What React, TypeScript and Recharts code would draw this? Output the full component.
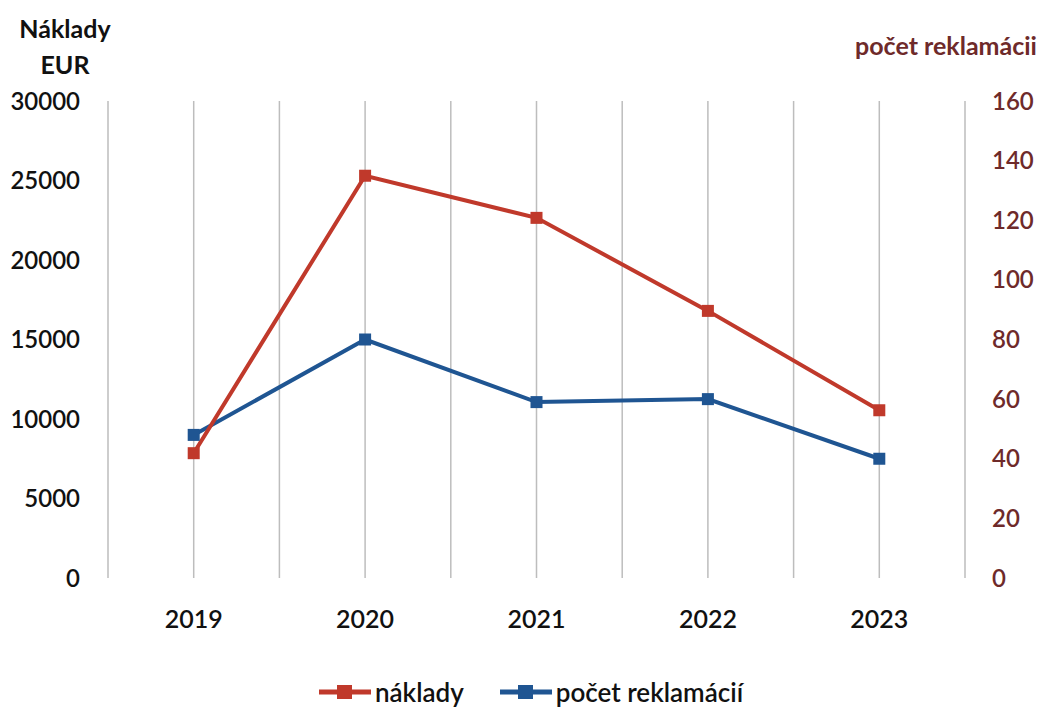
import { LineChart, Line, XAxis, YAxis, CartesianGrid } from 'recharts'

const years = ['2019', '2020', '2021', '2022', '2023']
const naklady = [7850, 25300, 22650, 16800, 10550]
const reklamacie = [48, 80, 59, 60, 40]
const leftTicks = [0, 5000, 10000, 15000, 20000, 25000, 30000]
const rightTicks = [0, 20, 40, 60, 80, 100, 120, 140, 160]

const RED = '#c0392b'
const BLUE = '#1f5592'
const AXIS_RED = '#6e2a2a'
const FONT = 'Lato, "Open Sans", sans-serif'

const data = years.map((year, i) => ({ year, naklady: naklady[i], reklamacie: reklamacie[i] }))

const legendItems = [
  { label: 'náklady', color: RED },
  { label: 'počet reklamácií', color: BLUE },
]

function ChartLegend() {
  return (
    <div style={{ position: 'absolute', left: 0, top: 676, width: 1046, display: 'flex', justifyContent: 'center', gap: 34, fontFamily: FONT, fontSize: 26, fontWeight: 600, color: '#111', paddingLeft: 14, boxSizing: 'border-box' }}>
      {legendItems.map((item) => (
        <div key={item.label} style={{ display: 'flex', alignItems: 'center' }}>
          <svg width={56} height={16}>
            <line x1={2} y1={8} x2={54} y2={8} stroke={item.color} strokeWidth={5} />
            <rect x={20} y={1} width={15} height={14} fill={item.color} />
          </svg>
          <span style={{ marginLeft: 2 }}>{item.label}</span>
        </div>
      ))}
    </div>
  )
}

function Square(props: any) {
  const { cx, cy, fill } = props
  if (cx == null || cy == null) return null
  return <rect x={cx - 6} y={cy - 6} width={12} height={12} fill={fill} />
}

export default function App() {
  return (
    <div style={{ position: 'absolute', left: 0, top: 0, width: 1046, height: 710, background: '#fff' }}>
      <div style={{ position: 'absolute', left: 0, top: 10, width: 130, textAlign: 'center', fontFamily: FONT, fontSize: 25, fontWeight: 700, color: '#111', lineHeight: '36px' }}>
        Náklady
        <br />
        EUR
      </div>
      <div style={{ position: 'absolute', left: 846, top: 30, width: 200, textAlign: 'center', fontFamily: FONT, fontSize: 25, fontWeight: 700, color: AXIS_RED }}>
        počet reklamácii
      </div>
      <LineChart width={1046} height={710} data={data} margin={{ top: 101, right: 0, bottom: 0, left: 0 }}>
        <CartesianGrid
          horizontal={false}
          stroke="#bdbdbd"
          strokeWidth={1.5}
          verticalCoordinatesGenerator={({ offset }: any) =>
            Array.from({ length: 11 }, (_, i) => offset.left + (offset.width * i) / 10)
          }
        />
        <XAxis
          dataKey="year"
          scale="band"
          axisLine={false}
          tickLine={false}
          tickSize={0}
          tickMargin={32}
          height={132}
          tick={{ fill: '#111', fontSize: 25, fontWeight: 600, fontFamily: FONT }}
        />
        <YAxis
          yAxisId="left"
          domain={[0, 30000]}
          ticks={leftTicks}
          width={108}
          axisLine={false}
          tickLine={false}
          tickSize={0}
          tickMargin={28}
          tick={{ fill: '#111', fontSize: 24, fontWeight: 600, fontFamily: FONT }}
        />
        <YAxis
          yAxisId="right"
          orientation="right"
          domain={[0, 160]}
          ticks={rightTicks}
          width={81}
          axisLine={false}
          tickLine={false}
          tickSize={0}
          tickMargin={27}
          tick={{ fill: AXIS_RED, fontSize: 24, fontWeight: 600, fontFamily: FONT }}
        />
        <Line
          yAxisId="right"
          dataKey="reklamacie"
          name="počet reklamácií"
          stroke={BLUE}
          strokeWidth={4}
          dot={<Square fill={BLUE} />}
          isAnimationActive={false}
        />
        <Line
          yAxisId="left"
          dataKey="naklady"
          name="náklady"
          stroke={RED}
          strokeWidth={4}
          dot={<Square fill={RED} />}
          isAnimationActive={false}
        />
      </LineChart>
      <ChartLegend />
    </div>
  )
}
